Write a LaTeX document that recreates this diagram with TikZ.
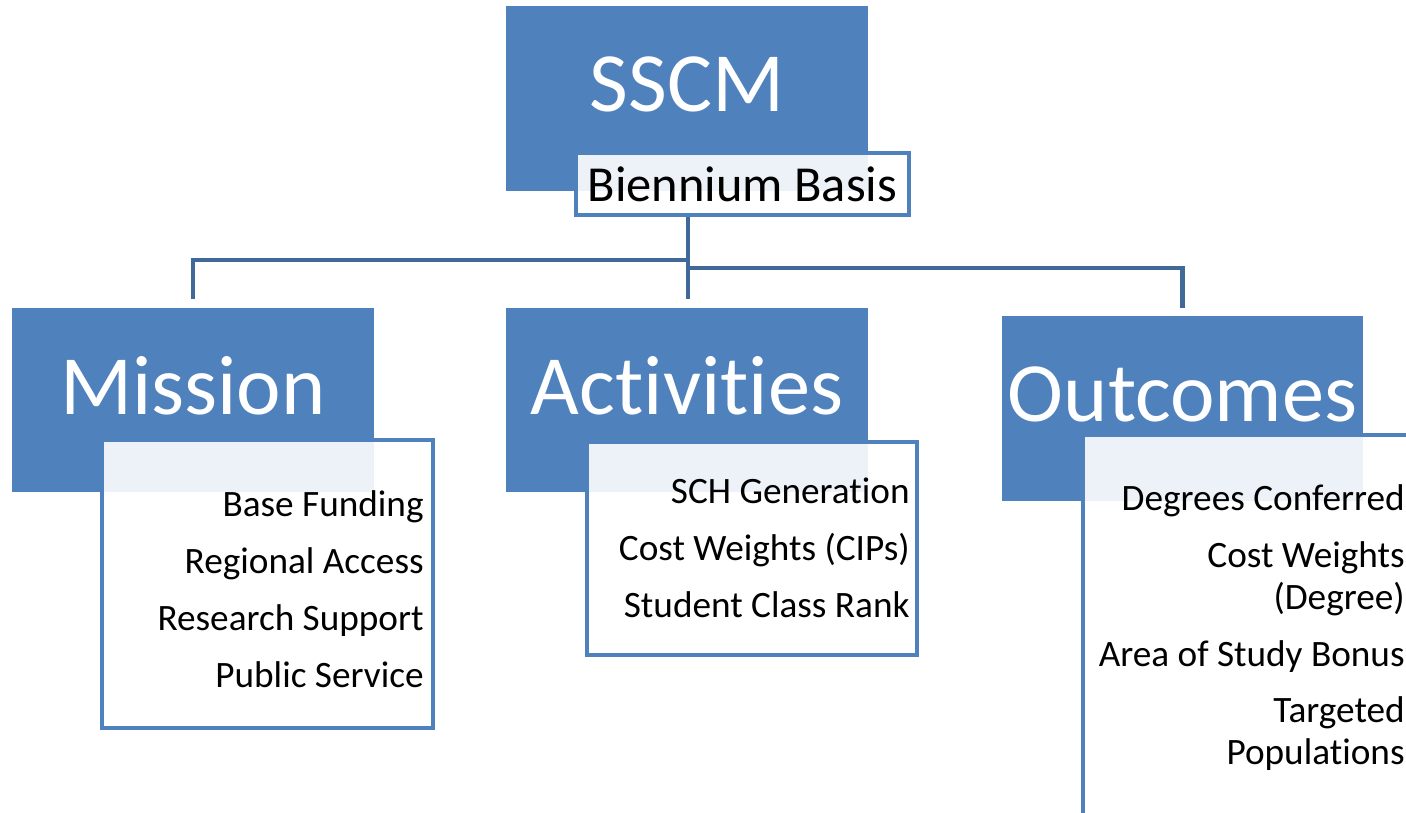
\documentclass[tikz,border=0pt]{standalone}
\usepackage{fontspec}
\setmainfont{Carlito}[Ligatures=NoCommon]
\usepackage{tikz}
\usetikzlibrary{positioning}

\definecolor{boxblue}{RGB}{79,129,189}
\definecolor{linkblue}{RGB}{64,104,153}

\tikzset{
    headbox/.style={rectangle, fill=boxblue, minimum width=7.24cm, minimum height=3.7cm, inner sep=0pt},
    headtext/.style={text=white, font=\fontsize{48}{48}\selectfont, yshift=0.28cm},
    listbox/.style={rectangle, draw=boxblue, line width=2.3pt, fill=white, fill opacity=0.9, text opacity=1, inner sep=0pt},
    listtext/.style={align=right, anchor=north east, inner sep=0pt, font=\fontsize{21.2}{23.9}\selectfont},
    link/.style={draw=linkblue, line width=2.3pt, shorten >=0.16cm}
}

\begin{document}
\begin{tikzpicture}[x=0.02cm, y=-0.02cm]
            \useasboundingbox (0,0) rectangle (1406,812);
            \clip (0,0) rectangle (1406,812);

            % top of the tree
            \node (sscm) at (687,98.5) [headbox, label={[headtext]center:SSCM}]{};
            \node (basis) at (742.5,184) [listbox, minimum width=6.66cm, minimum height=1.24cm, font=\fontsize{28.7}{28.7}\selectfont]{Biennium Basis};

            % the three branches
            \node (mission) at (193,400) [headbox, label={[headtext]center:Mission}]{};
            \node (activities) at (687,400) [headbox, label={[headtext]center:Activities}]{};
            \node (outcomes) at (1182.5,408.5) [headbox, label={[headtext]center:Outcomes}]{};

            \coordinate (forkL) at (688,260);
            \coordinate (forkR) at (688,268);
            \draw[link] (basis.south -| forkL) -- (activities.north -| forkL);
            \draw[link] (forkL) -| (mission.north);
            \draw[link] (forkR) -| (outcomes.north);

            % detail boxes
            \node (missionbox) at (267.5,584) [listbox, minimum width=6.62cm, minimum height=5.76cm]{};
            \node (activitiesbox) at (752,548.5) [listbox, minimum width=6.6cm, minimum height=4.26cm]{};
            \node (outcomesbox) at (1249,632) [listbox, minimum width=6.66cm, minimum height=7.9cm]{};

            \node (missionlist) at (424,490) [listtext]{Base Funding\\[8.5pt] Regional Access\\[8.5pt] Research Support\\[8.5pt] Public Service};
            \node (activitieslist) at (910,478) [listtext]{SCH Generation\\[8.5pt] Cost Weights (CIPs)\\[8.5pt] Student Class Rank};
            \node (outcomeslist) at (1405,484) [listtext]{Degrees Conferred\\[8.5pt] Cost Weights\\ (Degree)\\[8.5pt] Area of Study Bonus\\[8.5pt] Targeted\\ Populations};

        \end{tikzpicture}
\end{document}
